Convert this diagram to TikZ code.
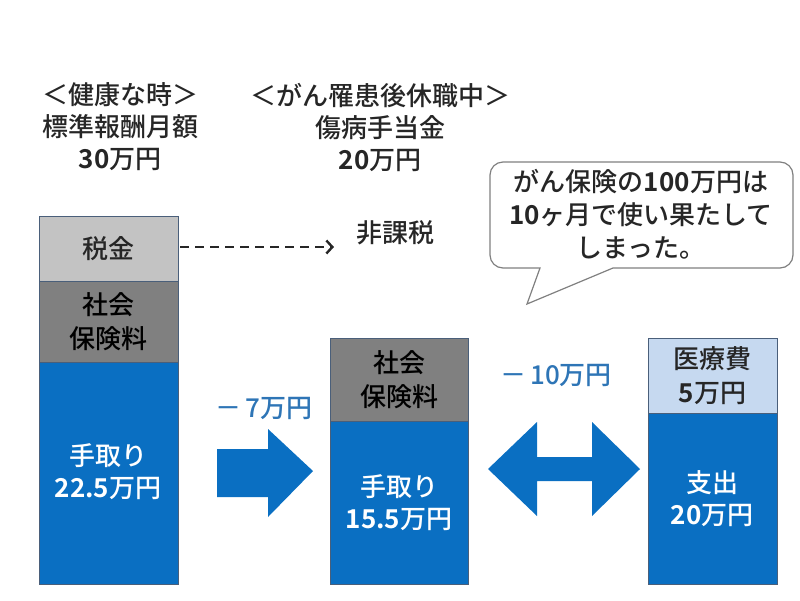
\documentclass[tikz,border=0pt]{standalone}
\usepackage{fontspec}
\setmainfont{Noto Sans CJK JP}[UprightFont={* Medium},BoldFont={* Bold}]
\usetikzlibrary{arrows.meta}
\definecolor{barblue}{HTML}{0A6FC2}
\definecolor{taxgray}{HTML}{C3C3C3}
\definecolor{socgray}{HTML}{808080}
\definecolor{medblue}{HTML}{C6D9F0}
\definecolor{edge}{HTML}{4A5F7A}
\definecolor{lblblue}{HTML}{2E75B6}
\definecolor{txtdark}{HTML}{262626}
\begin{document}
\begin{tikzpicture}[x=1pt,y=-1pt,
  seg/.style={draw=edge,line width=0.8pt,rectangle,inner sep=0pt,outer sep=0pt,anchor=north west,align=center,
    font=\fontsize{26}{34}\selectfont},
  bluebox/.style={seg,fill=barblue,text=white},
  plain/.style={align=center,font=\fontsize{26}{32}\selectfont,text=txtdark,inner sep=0pt},
  bigarrow/.style={fill=barblue,draw=none}
]
\useasboundingbox (0,0) rectangle (800,600);
% top headings
\node[plain] (h1) at (120,127) {＜健康な時＞\\標準報酬月額\\\textbf{30}万円};
\node[plain] (h2) at (380,127) {＜がん罹患後休職中＞\\傷病手当金\\\textbf{20}万円};
% bar 1
\node[seg,fill=taxgray,text=txtdark,minimum width=139pt,minimum height=65pt] (tax) at (39,216) {税金};
\node[seg,fill=socgray,text=black,minimum width=139pt,minimum height=81pt] (soc1) at (39,281) {社会\\保険料};
\node[bluebox,minimum width=139pt,minimum height=222pt] (take1) at (39,362) {};
\node[plain,text=white] at (108,472) {手取り\\\textbf{22.5}万円};
% bar 2
\node[seg,fill=socgray,text=black,minimum width=138pt,minimum height=83pt] (soc2) at (330,338) {社会\\保険料};
\node[bluebox,minimum width=138pt,minimum height=163pt] (take2) at (330,421) {};
\node[plain,text=white] at (399,503) {手取り\\\textbf{15.5}万円};
% bar 3
\node[seg,fill=medblue,text=txtdark,minimum width=129pt,minimum height=75pt] (med) at (648,338) {医療費\\\textbf{5}万円};
\node[bluebox,minimum width=129pt,minimum height=171pt] (exp) at (648,413) {};
\node[plain,text=white] at (712,499) {支出\\\textbf{20}万円};
% dashed arrow
\node[plain,anchor=west] (hika) at (356,233) {非課税};
\coordinate (dend) at (334,247);
\draw[dash pattern=on 9pt off 6pt,line width=2.6pt,color=txtdark,-{Straight Barb[length=6pt,width=13pt,line width=2.4pt]}] (tax.east |- dend) ++(2,0) -- (dend);
% right arrow
\fill[bigarrow] (217,449) -- (268,449) -- (268,429) -- (313,471) -- (268,517) -- (268,497) -- (217,497) -- cycle;
\node[plain,text=lblblue] (m7) at (264,408) {－\,7万円};
% double arrow
\fill[bigarrow] (488,469) -- (537,422) -- (537,457) -- (592,457) -- (592,422) -- (640,469) -- (592,516) -- (592,481) -- (537,481) -- (537,516) -- cycle;
\node[plain,text=lblblue] (m10) at (556,375) {－\,10万円};
% speech bubble
\draw[draw=socgray,line width=1.2pt,fill=white] (540,268) -- (527,304) -- (613,268) [rounded corners=13pt] -- (793,268) -- (793,162) -- (490,162) -- (490,268) [sharp corners] -- cycle;
\node[plain,font=\fontsize{26}{33}\selectfont] (bub) at (641,214) {がん保険の\textbf{100}万円は\\\textbf{10}ヶ月で使い果たして\\しまった。};
\end{tikzpicture}
\end{document}
